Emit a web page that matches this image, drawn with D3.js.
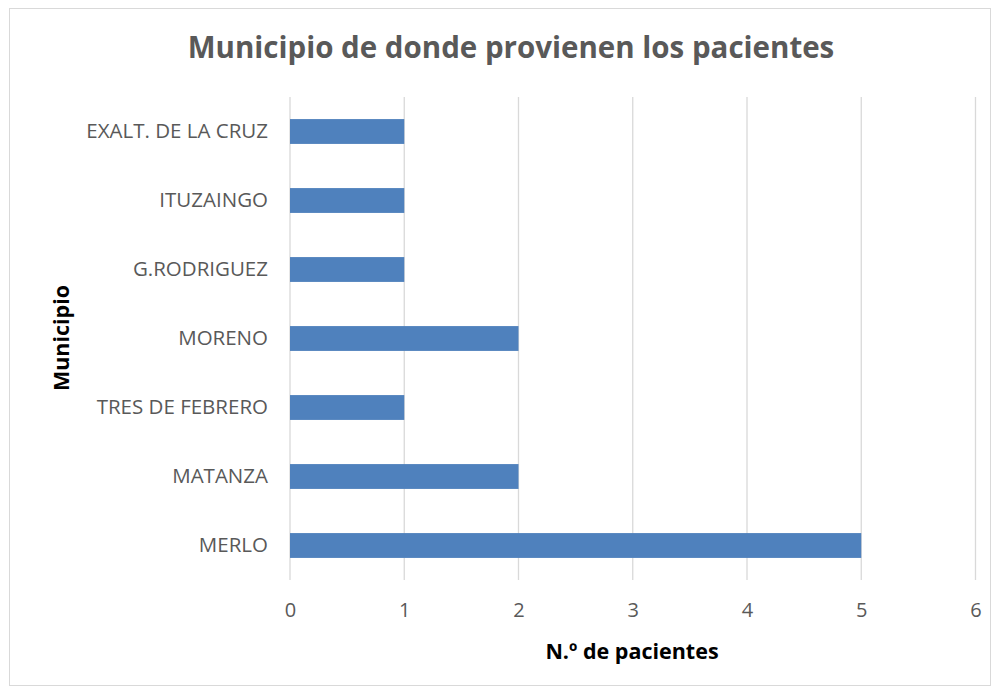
<!DOCTYPE html>
<html>
<head>
<meta charset="utf-8">
<script src="https://cdn.jsdelivr.net/npm/d3@7"></script>
<style>
  body { margin: 0; background: #fff; }
  svg text { font-family: 'Open Sans', 'Noto Sans', sans-serif; }
</style>
</head>
<body>
<div id="chart"></div>
<script>
(function () {
  'use strict';

  const municipios = ['EXALT. DE LA CRUZ', 'ITUZAINGO', 'G.RODRIGUEZ', 'MORENO', 'TRES DE FEBRERO', 'MATANZA', 'MERLO'];
  const pacientes  = [1, 1, 1, 2, 1, 2, 5];
  const xTicks     = [0, 1, 2, 3, 4, 5, 6];

  const W = 1000, H = 693;
  const PLOT = { left: 290, right: 975.5, top: 97, bottom: 580 };
  const BAR  = '#4F81BD';
  const GRID = '#D9D9D9';
  const TEXT = '#595959';

  const svg = d3.select('#chart').append('svg')
    .attr('width', W).attr('height', H);

  // chart border
  svg.append('rect')
    .attr('x', 9.5).attr('y', 8.5)
    .attr('width', 981).attr('height', 677)
    .attr('fill', '#fff').attr('stroke', '#D9D9D9');

  const x = d3.scaleLinear().domain([0, 6]).range([PLOT.left, PLOT.right]);
  const y = d3.scaleBand().domain(municipios).range([PLOT.top, PLOT.bottom]).paddingInner(0.64).paddingOuter(0.32);

  // gridlines
  svg.append('g').selectAll('line')
    .data(xTicks)
    .join('line')
    .attr('x1', d => x(d)).attr('x2', d => x(d))
    .attr('y1', PLOT.top).attr('y2', PLOT.bottom)
    .attr('stroke', GRID).attr('stroke-width', 1.3);

  // bars
  svg.append('g').selectAll('rect')
    .data(municipios.map((m, i) => ({ m, v: pacientes[i] })))
    .join('rect')
    .attr('x', x(0))
    .attr('y', d => y(d.m))
    .attr('width', d => x(d.v) - x(0))
    .attr('height', y.bandwidth())
    .attr('fill', BAR);

  // x axis labels
  const xAxis = svg.append('g')
    .attr('transform', `translate(0,${PLOT.bottom + 23})`)
    .call(d3.axisBottom(x).tickValues(xTicks).tickFormat(d3.format('d')).tickSize(0).tickPadding(0));
  xAxis.select('.domain').remove();
  xAxis.selectAll('text')
    .attr('dy', '0.71em')
    .attr('fill', TEXT).attr('font-size', 20);

  // y axis labels
  const yAxis = svg.append('g')
    .attr('transform', `translate(${PLOT.left},0)`)
    .call(d3.axisLeft(y).tickSize(0).tickPadding(22));
  yAxis.select('.domain').remove();
  yAxis.selectAll('text')
    .attr('fill', TEXT).attr('font-size', 20.5);

  // title
  svg.append('text')
    .attr('x', 511).attr('y', 58)
    .attr('text-anchor', 'middle')
    .attr('font-size', 29.5).attr('font-weight', 'bold')
    .attr('fill', TEXT)
    .text('Municipio de donde provienen los pacientes');

  // axis titles
  svg.append('text')
    .attr('x', 632).attr('y', 659)
    .attr('text-anchor', 'middle')
    .attr('font-size', 21.5).attr('font-weight', 'bold')
    .attr('fill', '#000')
    .text('N.º de pacientes');

  svg.append('text')
    .attr('transform', 'translate(69,338) rotate(-90)')
    .attr('text-anchor', 'middle')
    .attr('font-size', 21.5).attr('font-weight', 'bold')
    .attr('fill', '#000')
    .text('Municipio');
})();
</script>
</body>
</html>
